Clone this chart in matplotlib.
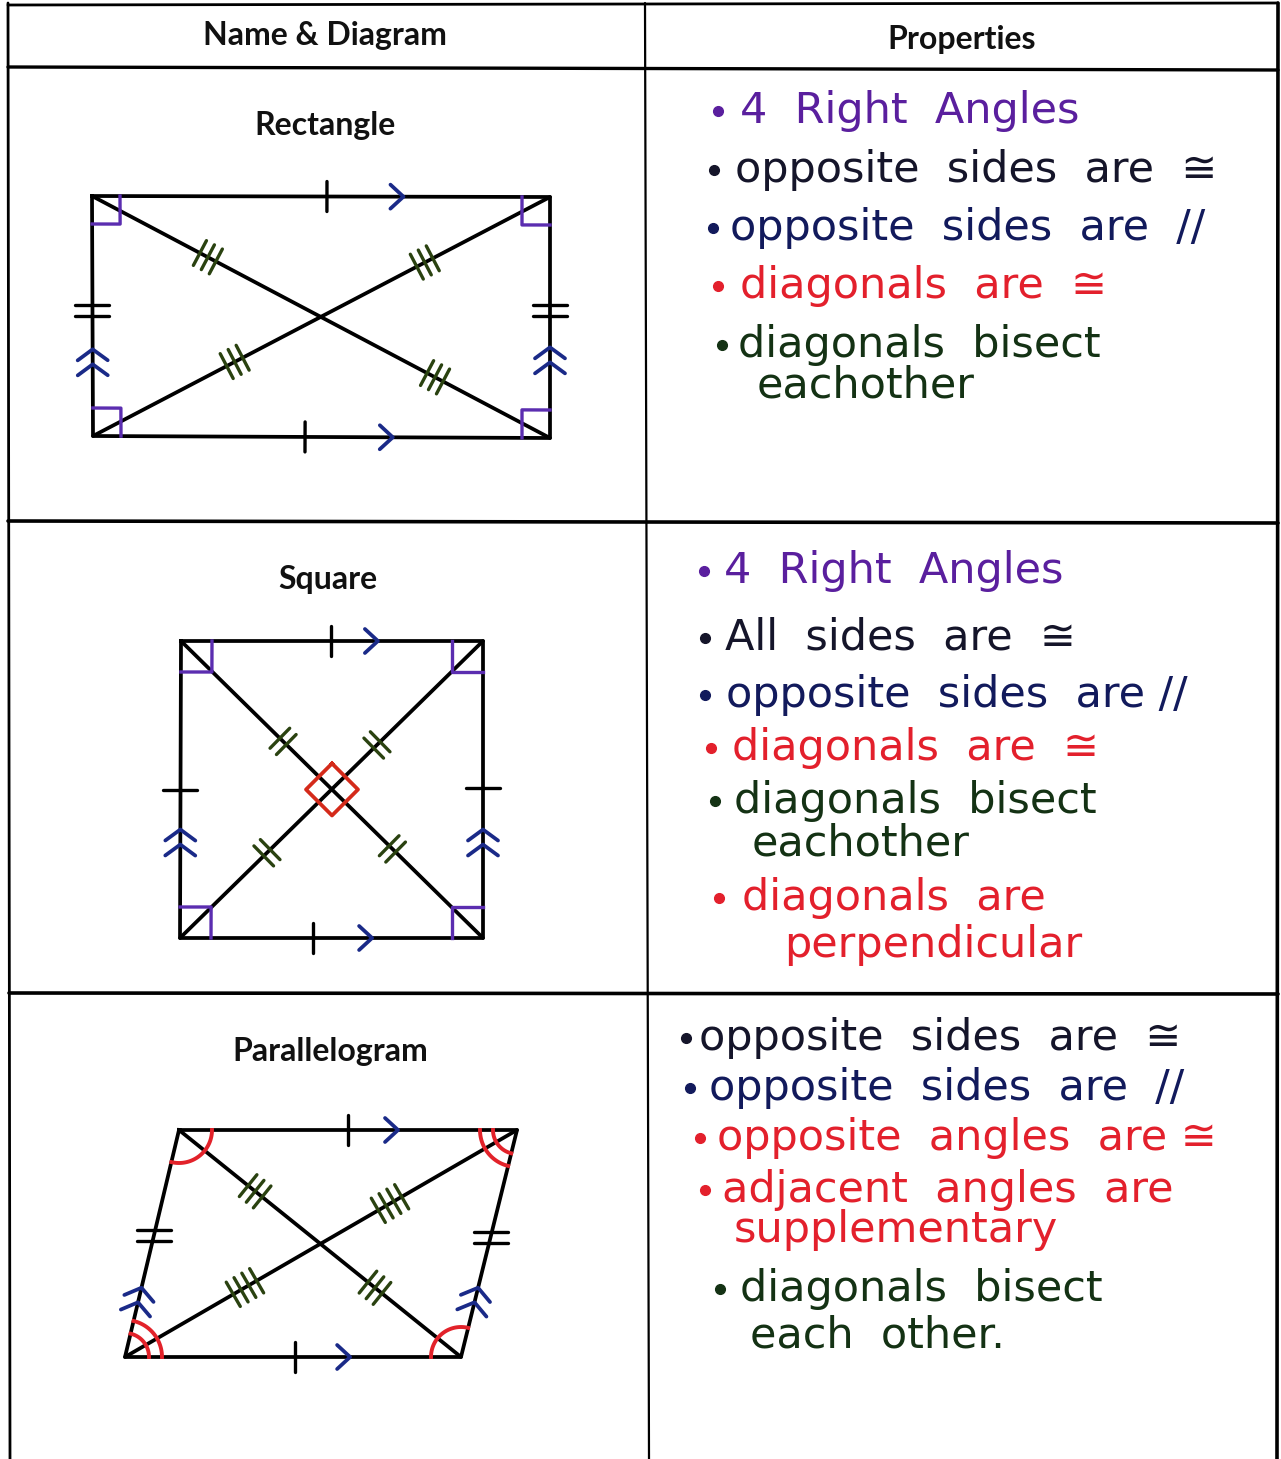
import numpy as np
import matplotlib.pyplot as plt

W, H = 1281, 1459

# ── Data ─────────────────────────────────────────────────────────────────────
HEADERS = ["Name & Diagram", "Properties"]
SHAPE_NAMES = ["Rectangle", "Square", "Parallelogram"]

# corners: top-left, top-right, bottom-right, bottom-left (pixel coords)
RECT = [(92, 196), (550, 197), (550, 438), (93, 436)]
SQUARE = [(181, 641), (483, 641), (483, 938), (180, 938)]
PARA = [(179, 1130), (517, 1130), (461, 1357), (125, 1357)]

# fraction along edge for: top tick, top arrow, bottom tick, bottom arrow,
# left tick, left chevrons, right tick, right chevrons
RECT_EDGE_T = [0.513, 0.68, 0.464, 0.656, 0.525, 0.33, 0.53, 0.345]
SQUARE_EDGE_T = [0.497, 0.652, 0.44, 0.634, 0.498, 0.34, 0.505, 0.34]
PARA_EDGE_T = [0.50, 0.648, 0.506, 0.67, 0.537, 0.273, 0.528, 0.273]
SIDE_TICKS = {"Rectangle": 2, "Square": 1, "Parallelogram": 2}

# diagonal ticks: (t on TL->BR first half, second half, t on BL->TR first, second)
RECT_DIAG_T = [0.253, 0.749, 0.31, 0.726]
SQUARE_DIAG_T = [0.338, 0.70, 0.287, 0.65]
PARA_DIAG_T = [0.27, 0.695, 0.306, 0.676]
DIAG_TICKS = {"Rectangle": (3, 3), "Square": (2, 2), "Parallelogram": (3, 4)}

RECT_PROPS = ["4  Right  Angles", "opposite  sides  are  \u2245",
              "opposite  sides  are  //", "diagonals  are  \u2245",
              "diagonals  bisect", "eachother"]
RECT_COLORS = ["purple", "black", "navy", "red", "green", "green"]
RECT_BULLET = [1, 1, 1, 1, 1, 0]

SQUARE_PROPS = ["4  Right  Angles", "All  sides  are  \u2245",
                "opposite  sides  are //", "diagonals  are  \u2245",
                "diagonals  bisect", "eachother", "diagonals  are",
                "perpendicular"]
SQUARE_COLORS = ["purple", "black", "navy", "red", "green", "green", "red", "red"]
SQUARE_BULLET = [1, 1, 1, 1, 1, 0, 1, 0]

PARA_PROPS = ["opposite  sides  are  \u2245", "opposite  sides  are  //",
              "opposite  angles  are \u2245", "adjacent  angles  are",
              "supplementary", "diagonals  bisect", "each  other."]
PARA_COLORS = ["black", "navy", "red", "red", "red", "green", "green"]
PARA_BULLET = [1, 1, 1, 1, 0, 1, 0]

# ── Layout ───────────────────────────────────────────────────────────────────
INK = {"purple": "#5a1f9e", "black": "#15152a", "navy": "#121a5c",
       "red": "#e3202c", "green": "#143214"}
RECT_XY = [(740, 123), (735, 182), (730, 240), (740, 298), (738, 357), (757, 397)]
RECT_BX = [718, 714, 713, 718, 722, 0]
SQUARE_XY = [(724, 583), (725, 650), (726, 707), (732, 760), (734, 813),
             (752, 855), (742, 910), (784, 957)]
SQUARE_BX = [704, 705, 705, 711, 715, 0, 719, 0]
PARA_XY = [(699, 1050), (709, 1100), (717, 1150), (722, 1202), (734, 1242),
           (740, 1301), (750, 1348)]
PARA_BX = [686, 690, 700, 705, 0, 720, 0]

SHAPE_LW = 2.7
MARK_LW = 2.4
TEXT_SIZE = 31


def unit(p, q):
    d = np.subtract(q, p).astype(float)
    return d / np.hypot(d[0], d[1])


def along(p, q, t):
    return np.asarray(p, float) + t * np.subtract(q, p).astype(float)


def seg(ax, a, b, color, lw=MARK_LW):
    ax.plot([a[0], b[0]], [a[1], b[1]], color=color, lw=lw,
            solid_capstyle="round")


def ticks(ax, p, q, t, n, length, gap, color, flat=False):
    c = along(p, q, t)
    u = unit(p, q)
    nrm = np.array([1.0, 0.0]) if flat else np.array([-u[1], u[0]])
    step = np.array([0.0, 1.0]) * np.sign(u[1]) if flat else u
    for o in (np.arange(n) - (n - 1) / 2) * gap:
        m = c + o * step
        seg(ax, m - nrm * length / 2, m + nrm * length / 2, color)


def chevrons(ax, p, q, t, n, depth, half, gap, color):
    c = along(p, q, t)
    u = unit(p, q)
    nrm = np.array([-u[1], u[0]])
    for o in (np.arange(n) - (n - 1) / 2) * gap:
        tip = c + o * u
        a = tip - depth * u + half * nrm
        b = tip - depth * u - half * nrm
        ax.plot([a[0], tip[0], b[0]], [a[1], tip[1], b[1]], color=color,
                lw=MARK_LW + 0.3, solid_capstyle="round",
                solid_joinstyle="round")


def right_box(ax, c, p1, p2, s, color):
    u1, u2 = unit(c, p1), unit(c, p2)
    c = np.asarray(c, float)
    pts = np.array([c + s * u1, c + s * u1 + s * u2, c + s * u2])
    ax.plot(pts[:, 0], pts[:, 1], color=color, lw=MARK_LW)


def arc(ax, c, p1, p2, r, color):
    u1, u2 = unit(c, p1), unit(c, p2)
    a1 = np.arctan2(u1[1], u1[0])
    a2 = np.arctan2(u2[1], u2[0])
    d = (a2 - a1 + np.pi) % (2 * np.pi) - np.pi
    th = a1 + np.linspace(0, 1, 50) * d
    ax.plot(c[0] + r * np.cos(th), c[1] + r * np.sin(th), color=color,
            lw=MARK_LW + 0.4)


def draw_shape(ax, name, pts, edge_t, diag_t):
    tl, tr, br, bl = pts
    xs = [p[0] for p in pts] + [tl[0]]
    ys = [p[1] for p in pts] + [tl[1]]
    ax.plot(xs, ys, color="black", lw=SHAPE_LW, solid_joinstyle="round")
    seg(ax, tl, br, "black", SHAPE_LW)
    seg(ax, bl, tr, "black", SHAPE_LW)

    k = SIDE_TICKS[name]
    blue = "#1a2a88"
    ticks(ax, tl, tr, edge_t[0], 1, 30, 10, "black")
    chevrons(ax, tl, tr, edge_t[1], 1, 13, 12, 12, blue)
    ticks(ax, bl, br, edge_t[2], 1, 30, 10, "black")
    chevrons(ax, bl, br, edge_t[3], 1, 13, 12, 12, blue)
    ticks(ax, bl, tl, edge_t[4], k, 34, 11, "black", flat=True)
    chevrons(ax, bl, tl, edge_t[5], 2, 11, 15, 15, blue)
    ticks(ax, br, tr, edge_t[6], k, 34, 11, "black", flat=True)
    chevrons(ax, br, tr, edge_t[7], 2, 11, 15, 15, blue)

    n1, n2 = DIAG_TICKS[name]
    green = "#2a4210"
    ticks(ax, tl, br, diag_t[0], n1, 28, 9, green)
    ticks(ax, tl, br, diag_t[1], n1, 28, 9, green)
    ticks(ax, bl, tr, diag_t[2], n2, 28, 9, green)
    ticks(ax, bl, tr, diag_t[3], n2, 28, 9, green)


def draw_props(ax, props, colors, bullets, xy, bx):
    for s, c, b, (x, y), bxx in zip(props, colors, bullets, xy, bx):
        ax.text(x, y, s, color=INK[c], fontsize=TEXT_SIZE, ha="left",
                va="baseline", family="DejaVu Sans")
        if b:
            ax.plot(bxx, y - 12, "o", color=INK[c], ms=7)


# ── Figure ───────────────────────────────────────────────────────────────────
fig = plt.figure(figsize=(W / 100, H / 100), dpi=100)
ax = fig.add_axes([0, 0, 1, 1])
ax.set_xlim(0, W)
ax.set_ylim(H, 0)
ax.axis("off")

# table frame (slightly skewed like the scan)
frame_lw = 2.0
seg(ax, (8, 5), (1278, 3), "black", frame_lw)
seg(ax, (8, 67), (1278, 70), "black", frame_lw + 0.4)
seg(ax, (8, 521), (1278, 523), "black", frame_lw + 0.6)
seg(ax, (9, 993), (1278, 994), "black", frame_lw + 0.6)
seg(ax, (8, 3), (10, 1459), "black", frame_lw)
seg(ax, (645, 3), (649, 1459), "black", frame_lw - 0.4)
seg(ax, (1278, 3), (1277, 1459), "black", frame_lw + 0.6)

hdr_font = dict(family=["Lato", "DejaVu Sans"], fontweight="bold",
                fontsize=23, ha="center", va="center", color="#111111")
ax.text(325, 35, HEADERS[0], **hdr_font)
ax.text(962, 39, HEADERS[1], **hdr_font)
for name, (x, y) in zip(SHAPE_NAMES, [(325, 125), (328, 580), (330, 1052)]):
    ax.text(x, y, name, **hdr_font)

# rectangle
draw_shape(ax, "Rectangle", RECT, RECT_EDGE_T, RECT_DIAG_T)
purple = "#5b2db0"
for i in range(4):
    c = RECT[i]
    right_box(ax, c, RECT[(i + 1) % 4], RECT[(i - 1) % 4], 28, purple)

# square
draw_shape(ax, "Square", SQUARE, SQUARE_EDGE_T, SQUARE_DIAG_T)
for i in range(4):
    right_box(ax, SQUARE[i], SQUARE[(i + 1) % 4], SQUARE[(i - 1) % 4], 31,
              purple)
ctr = along(SQUARE[0], SQUARE[2], 0.5)
dia = np.array([(0, -26), (26, 0), (0, 26), (-26, 0), (0, -26)]) + ctr
ax.plot(dia[:, 0], dia[:, 1], color="#d42a1a", lw=MARK_LW + 0.3,
        solid_joinstyle="round")

# parallelogram
draw_shape(ax, "Parallelogram", PARA, PARA_EDGE_T, PARA_DIAG_T)
red = "#e2222a"
tl, tr, br, bl = PARA
arc(ax, tl, tr, bl, 33, red)
arc(ax, br, bl, tr, 30, red)
for r in (24, 37):
    arc(ax, tr, tl, br, r, red)
    arc(ax, bl, br, tl, r, red)

draw_props(ax, RECT_PROPS, RECT_COLORS, RECT_BULLET, RECT_XY, RECT_BX)
draw_props(ax, SQUARE_PROPS, SQUARE_COLORS, SQUARE_BULLET, SQUARE_XY, SQUARE_BX)
draw_props(ax, PARA_PROPS, PARA_COLORS, PARA_BULLET, PARA_XY, PARA_BX)

fig.savefig("out.png", dpi=100, facecolor="white")
